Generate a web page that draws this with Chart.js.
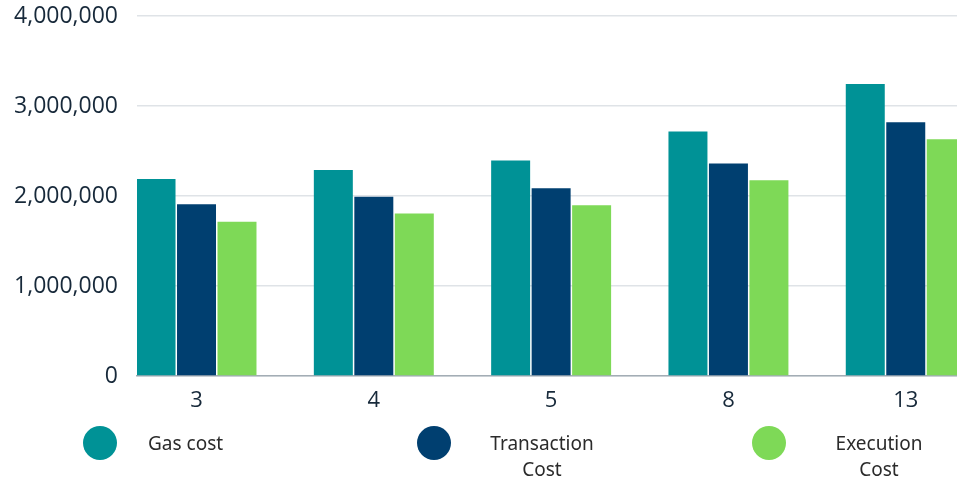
<!DOCTYPE html>
<html>
<head>
<meta charset="utf-8">
<script src="https://cdn.jsdelivr.net/npm/chart.js@4/dist/chart.umd.min.js"></script>
<style>
  html, body { margin: 0; padding: 0; background: #ffffff; }
  #wrap { position: relative; width: 957px; height: 483px; overflow: hidden; }
  #c { position: absolute; left: 0; top: 0; }
  .lg-dot { position: absolute; width: 34px; height: 34px; border-radius: 50%; }
  .lg-text { position: absolute; font-family: "Noto Sans", "Open Sans", sans-serif; font-size: 19px; line-height: 26px; color: #2b2b2b; text-align: center; }
</style>
</head>
<body>
<div id="wrap">
  <canvas id="c" width="957" height="483"></canvas>
</div>
<script>
// ---- data ----
const categories = ["3", "4", "5", "8", "13"];
const gasCost = [2190000, 2290000, 2395000, 2718000, 3245000];
const transactionCost = [1908000, 1992000, 2086000, 2360000, 2820000];
const executionCost = [1715000, 1805000, 1897000, 2174000, 2630000];
const seriesNames = ["Gas cost", "Transaction Cost", "Execution Cost"];
const yTicks = [0, 1000000, 2000000, 3000000, 4000000];

const colors = ["#009296", "#003F70", "#7ED957"];
const seriesValues = [gasCost, transactionCost, executionCost];

const datasets = seriesNames.map((name, s) => ({
  label: name,
  data: seriesValues[s].map((v, i) => ({ x: i, y: v })),
  backgroundColor: colors[s],
  borderWidth: 0,
  categoryPercentage: 0.685,
  barPercentage: 0.963
}));

const tickColor = "#17293a";

new Chart(document.getElementById("c"), {
  type: "bar",
  data: { datasets },
  options: {
    responsive: false,
    animation: false,
    layout: { padding: { top: 16, right: 0, bottom: 0, left: 0 } },
    plugins: { legend: { display: false }, tooltip: { enabled: false } },
    scales: {
      x: {
        type: "linear",
        offset: false,
        min: -0.3356,
        max: 4.289,
        afterBuildTicks: (axis) => { axis.ticks = categories.map((c, i) => ({ value: i })); },
        afterFit: (scale) => { scale.height = 107; scale.paddingLeft = 0; scale.paddingRight = 0; },
        grid: { display: false, drawTicks: false, offset: false },
        border: { display: true, color: "#a3adb5", width: 1.5 },
        ticks: {
          padding: 12,
          color: tickColor,
          font: { family: "Open Sans", size: 22, weight: 500 },
          callback: (v) => categories[v],
          maxRotation: 0,
          autoSkip: false
        }
      },
      y: {
        min: 0,
        max: 4000000,
        afterBuildTicks: (axis) => { axis.ticks = yTicks.map(v => ({ value: v })); },
        afterFit: (scale) => { scale.width = 137; scale.paddingTop = 0; scale.paddingBottom = 0; },
        grid: { color: "#dfe3e7", lineWidth: 1.5, drawTicks: false },
        border: { display: false },
        ticks: {
          padding: 19,
          color: tickColor,
          font: { family: "Open Sans", size: 23, weight: 500 },
          callback: (v) => v.toLocaleString("en-US")
        }
      }
    }
  }
});

// ---- HTML legend built from series names ----
const wrap = document.getElementById("wrap");
const legendLayout = [
  { dotX: 100, textLeft: 148, textCenter: null },
  { dotX: 434, textLeft: null, textCenter: 542 },
  { dotX: 769, textLeft: null, textCenter: 879 }
];
seriesNames.forEach((name, s) => {
  const L = legendLayout[s];
  const dot = document.createElement("div");
  dot.className = "lg-dot";
  dot.style.background = colors[s];
  dot.style.left = (L.dotX - 17) + "px";
  dot.style.top = (443 - 17) + "px";
  wrap.appendChild(dot);
  const t = document.createElement("div");
  t.className = "lg-text";
  const words = name.split(" ");
  if (L.textLeft !== null) {
    t.textContent = name;
    t.style.left = L.textLeft + "px";
    t.style.top = (443 - 13) + "px";
    t.style.textAlign = "left";
  } else {
    t.innerHTML = words[0] + "<br>" + words.slice(1).join(" ");
    t.style.width = "160px";
    t.style.left = (L.textCenter - 80) + "px";
    t.style.top = (443 - 13) + "px";
  }
  wrap.appendChild(t);
});
</script>
</body>
</html>
